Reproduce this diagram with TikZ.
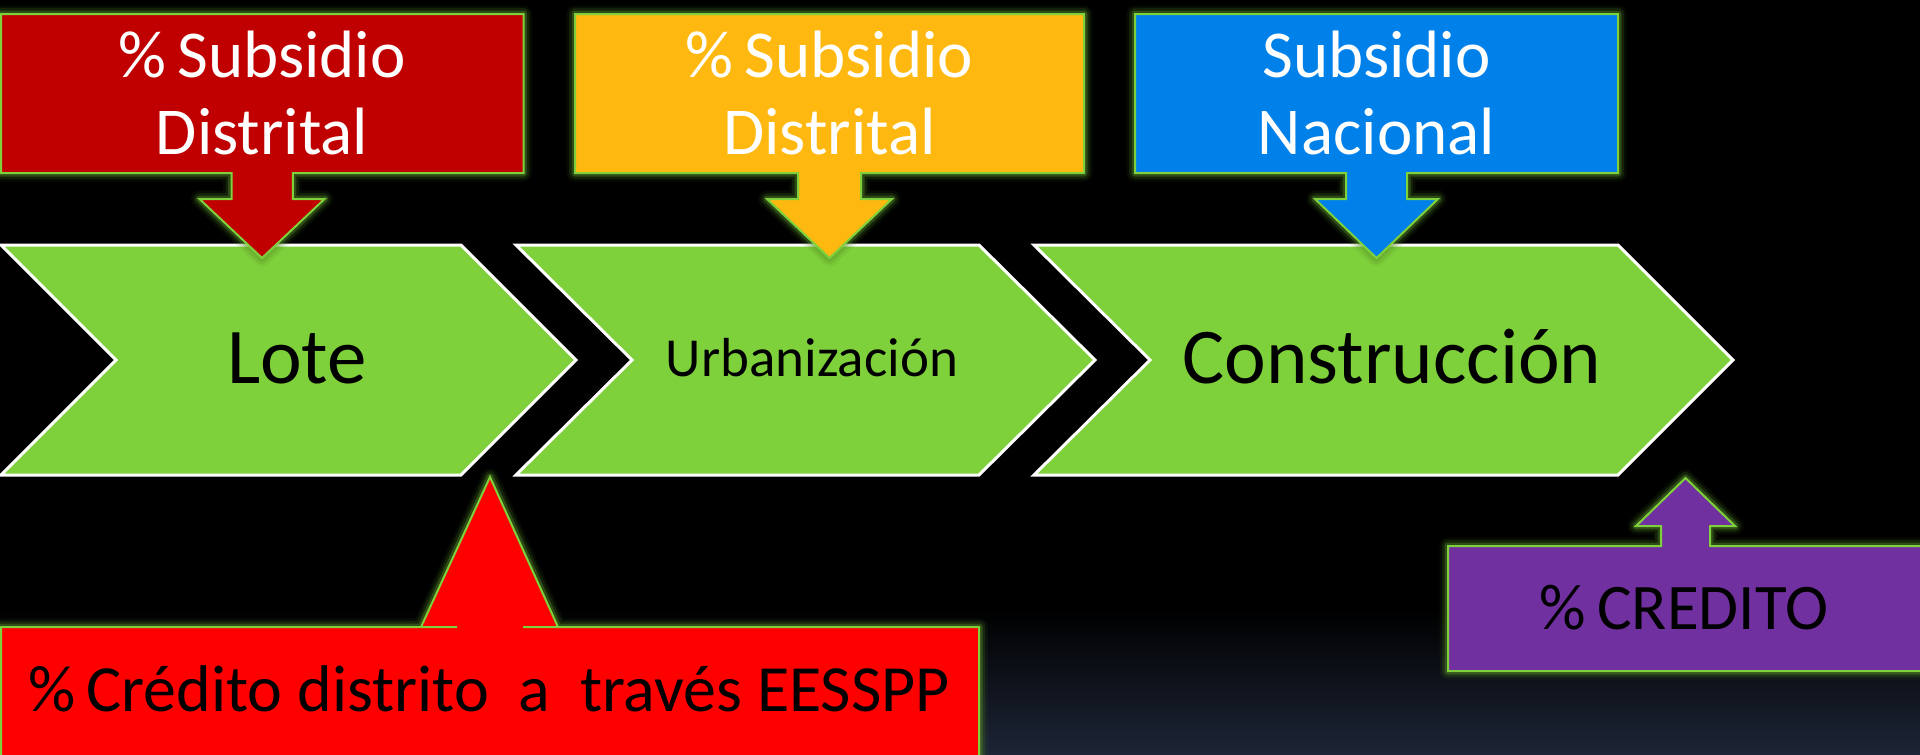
\documentclass[tikz,border=0pt]{standalone}
\usepackage{fontspec}
\setmainfont{Carlito}
\definecolor{lime}{HTML}{7FD13B}
\definecolor{darkred}{HTML}{C00000}
\definecolor{amber}{HTML}{FFB80F}
\definecolor{skyblue}{HTML}{0081E9}
\definecolor{violet}{HTML}{7030A0}
\definecolor{brightred}{HTML}{FF0000}
\definecolor{navy}{HTML}{1D2536}
\begin{document}
\begin{tikzpicture}[x=1pt,y=-1pt,
  chev/.style={fill=lime, draw=white, line width=3pt, line join=miter},
  callout/.style={draw=lime, line width=2pt, line join=miter,
     preaction={draw=lime!60!black, line width=17pt, opacity=0.10, line join=round},
     preaction={draw=lime!65!black, line width=12pt, opacity=0.18, line join=round},
     preaction={draw=lime!75!black, line width=7pt, opacity=0.35, line join=round}},
  wtext/.style={text=white, inner sep=0pt, anchor=base, font=\fontsize{67}{77}\selectfont},
  btext/.style={text=black, inner sep=0pt, anchor=base},
]
\useasboundingbox (0,0) rectangle (1920,755);
% background
\fill[black] (0,0) rectangle (1920,755);
\shade[top color=black, bottom color=navy] (0,610) rectangle (1920,755);

% chevrons
\draw[chev] (1,245) -- (461,245) -- (576,360) -- (461,475) -- (1,475) -- (116,360) -- cycle;
\draw[chev] (516,245) -- (979,245) -- (1095,360) -- (979,475) -- (516,475) -- (632,360) -- cycle;
\draw[chev] (1034,245) -- (1618,245) -- (1733,360) -- (1618,475) -- (1034,475) -- (1150,360) -- cycle;
\node[btext, font=\fontsize{79}{90}\selectfont] (lote) at (297,383) {Lote};
\node[btext, font=\fontsize{55}{64}\selectfont] (urb) at (812,376) {Urbanización};
\node[btext, font=\fontsize{79}{90}\selectfont] (cons) at (1392,383) {Construcción};

% top callouts
\filldraw[callout, fill=darkred] (1,14) -- (523.5,14) -- (523.5,173) -- (292.8,173) -- (292.8,199) -- (324.5,199)
  -- (262,258) -- (199.5,199) -- (231.5,199) -- (231.5,173) -- (1,173) -- cycle;
\node[wtext] (sd1a) at (262,77) {\%\,Subsidio};
\node[wtext] (sd1b) at (262,154) {Distrital};

\filldraw[callout, fill=amber] (575,14) -- (1084,14) -- (1084,173) -- (861,173) -- (861,199) -- (892,199)
  -- (829.5,258) -- (767,199) -- (798,199) -- (798,173) -- (575,173) -- cycle;
\node[wtext] (sd2a) at (829.5,77) {\%\,Subsidio};
\node[wtext] (sd2b) at (829.5,154) {Distrital};

\filldraw[callout, fill=skyblue] (1135,14) -- (1618,14) -- (1618,173) -- (1407,173) -- (1407,199) -- (1438,199)
  -- (1376.5,258) -- (1315,199) -- (1346,199) -- (1346,173) -- (1135,173) -- cycle;
\node[wtext] (sna) at (1376.5,77) {Subsidio};
\node[wtext] (snb) at (1376.5,154) {Nacional};

% bottom callouts
\filldraw[callout, fill=brightred] (1,627) -- (457,627) -- (421,627) -- (490,477) -- (558,627) -- (523,627)
  -- (979,627) -- (979,765) -- (1,765) -- cycle;
\node[btext, font=\fontsize{66}{76}\selectfont] (cred) at (489,711) {\%\,Crédito distrito~~a~~través EESSPP};

\filldraw[callout, fill=violet] (1448,546) -- (1661,546) -- (1661,526) -- (1636,526) -- (1685.5,478) -- (1735,526)
  -- (1710,526) -- (1710,546) -- (1930,546) -- (1930,671) -- (1448,671) -- cycle;
\node[btext, font=\fontsize{65}{75}\selectfont] (credito) at (1684,629) {\%\,CREDITO};
\end{tikzpicture}
\end{document}
